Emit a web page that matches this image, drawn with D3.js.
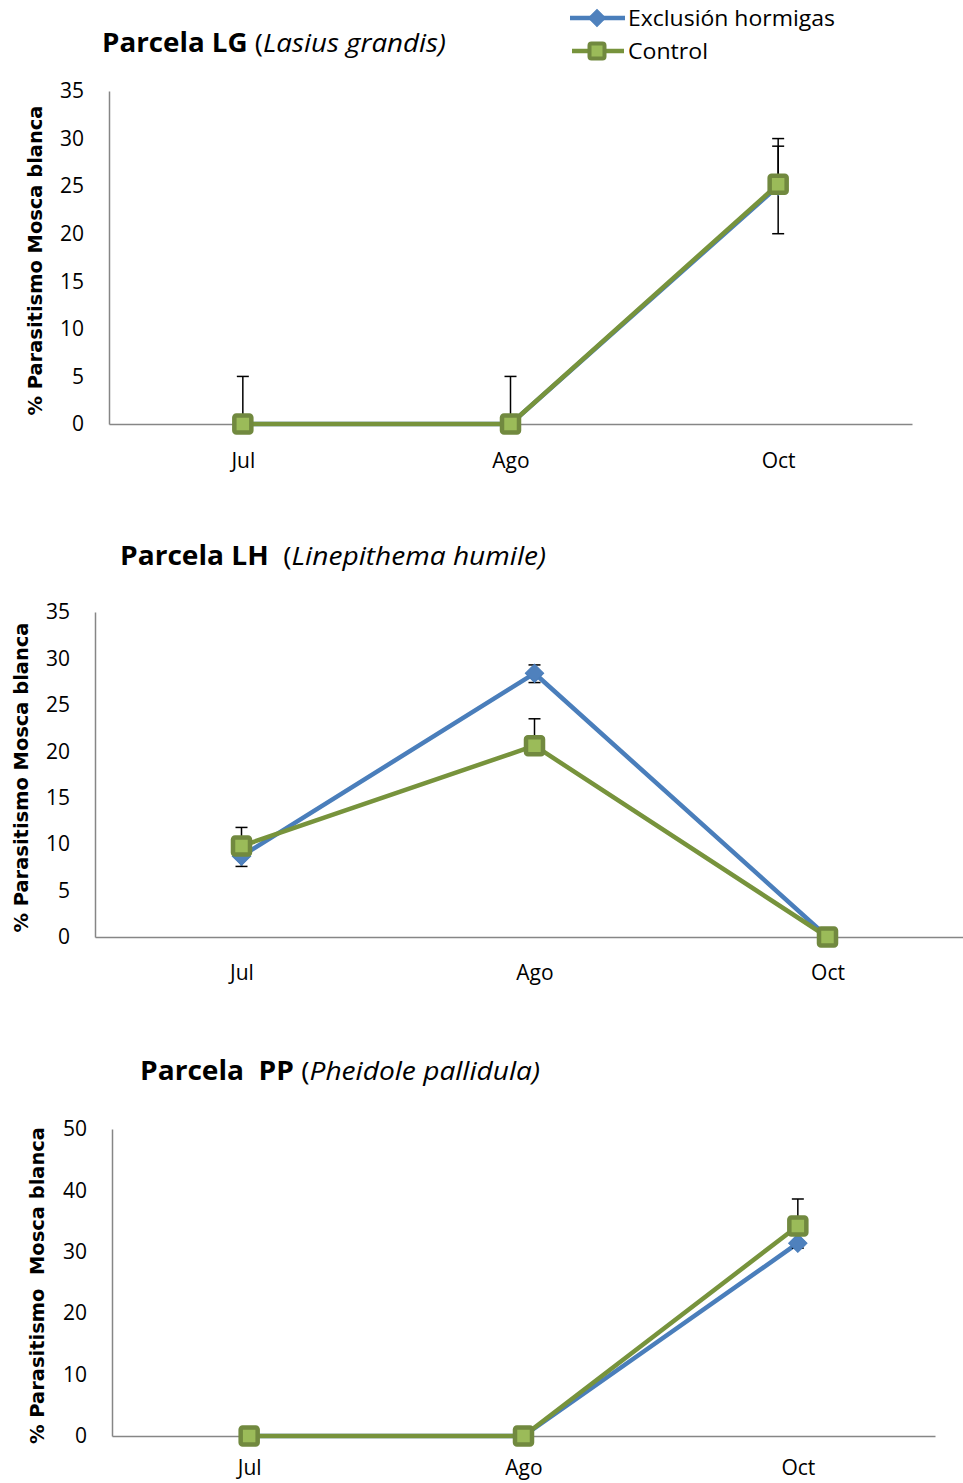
<!DOCTYPE html>
<html>
<head>
<meta charset="utf-8">
<script src="https://cdn.jsdelivr.net/npm/d3@7"></script>
<style>
  body { margin: 0; background: #fff; }
  svg { display: block; font-family: "Open Sans", sans-serif; }
</style>
</head>
<body>
<div id="chart"></div>
<script>
// data
const months = ["Jul", "Ago", "Oct"];
const seriesNames = ["Exclusión hormigas", "Control"];

const lgExcl = [0, 0, 25];
const lgExclPlus = [5, 5, 5];
const lgExclMinus = [0, 0, 5];
const lgCtrl = [0, 0, 25.2];
const lgCtrlPlus = [0, 0, 4];
const lgCtrlMinus = [0, 0, 0];
const lgTicks = [0, 5, 10, 15, 20, 25, 30, 35];

const lhExcl = [8.7, 28.4, 0];
const lhExclPlus = [0, 0.9, 0];
const lhExclMinus = [1.1, 1.0, 0];
const lhCtrl = [9.8, 20.6, 0];
const lhCtrlPlus = [2.0, 2.9, 0];
const lhCtrlMinus = [0, 0, 0];
const lhTicks = [0, 5, 10, 15, 20, 25, 30, 35];

const ppExcl = [0, 0, 31.4];
const ppExclPlus = [0, 0, 0];
const ppExclMinus = [0, 0, 0.8];
const ppCtrl = [0, 0, 34.2];
const ppCtrlPlus = [0, 0, 4.4];
const ppCtrlMinus = [0, 0, 0];
const ppTicks = [0, 10, 20, 30, 40, 50];

const blue = "#4a7ebb", blueFill = "#4f81bd";
const green = "#71893f", greenFill = "#9bbb59", greenLine = "#77933c";

const W = 963, H = 1483;
const svg = d3.select("#chart").append("svg")
    .attr("width", W).attr("height", H);

const panels = [
  { title: ["Parcela LG", " (", "Lasius grandis)"], titleX: 102, titleY: 52, titleLen: 344,
    x0: 109, x1: 912, yTop: 91, yZero: 424, max: 35, ticks: lgTicks, catPad: 29,
    labelX: 42, labelLen: 310, label: "% Parasitismo Mosca blanca",
    excl: [lgExcl, lgExclPlus, lgExclMinus], ctrl: [lgCtrl, lgCtrlPlus, lgCtrlMinus] },
  { title: ["Parcela LH", "  (", "Linepithema humile)"], titleX: 120, titleY: 565, titleLen: 426,
    x0: 95, x1: 974, yTop: 612, yZero: 937, max: 35, ticks: lhTicks, catPad: 28,
    labelX: 28, labelLen: 310, label: "% Parasitismo Mosca blanca",
    excl: [lhExcl, lhExclPlus, lhExclMinus], ctrl: [lhCtrl, lhCtrlPlus, lhCtrlMinus] },
  { title: ["Parcela  PP", " (", "Pheidole pallidula)"], titleX: 140, titleY: 1080, titleLen: 400,
    x0: 112, x1: 935, yTop: 1129, yZero: 1436, max: 50, ticks: ppTicks, catPad: 24,
    labelX: 44, labelLen: 317, label: "% Parasitismo  Mosca blanca",
    excl: [ppExcl, ppExclPlus, ppExclMinus], ctrl: [ppCtrl, ppCtrlPlus, ppCtrlMinus] }
];

panels.forEach(p => {
  const x = d3.scalePoint().domain(months).range([p.x0, p.x1]).padding(0.5);
  const y = d3.scaleLinear().domain([0, p.max]).range([p.yZero, p.yTop]);

  // title
  const t = svg.append("text")
      .attr("x", p.titleX).attr("y", p.titleY)
      .attr("font-size", 26)
      .style("white-space", "pre")
      .attr("textLength", p.titleLen).attr("lengthAdjust", "spacingAndGlyphs");
  t.append("tspan").attr("font-weight", "bold").text(p.title[0]);
  t.append("tspan").text(p.title[1]);
  t.append("tspan").attr("font-style", "italic").text(p.title[2]);

  // y axis label
  const cy = (p.yTop + p.yZero) / 2 + 3;
  svg.append("text")
      .attr("transform", `translate(${p.labelX},${cy}) rotate(-90)`)
      .attr("text-anchor", "middle")
      .attr("font-family", "DejaVu Sans, sans-serif")
      .attr("font-weight", "bold")
      .attr("font-size", 20)
      .attr("textLength", p.labelLen).attr("lengthAdjust", "spacingAndGlyphs")
      .style("white-space", "pre")
      .text(p.label);

  // axes
  const yAxis = svg.append("g")
      .attr("transform", `translate(${p.x0},0)`)
      .call(d3.axisLeft(y).tickValues(p.ticks).tickSize(0).tickPadding(25));
  const xAxis = svg.append("g")
      .attr("transform", `translate(0,${p.yZero})`)
      .call(d3.axisBottom(x).tickSize(0).tickPadding(p.catPad));
  [yAxis, xAxis].forEach(a => {
    a.select(".domain").attr("stroke", "#868686").attr("stroke-width", 1.5);
    a.selectAll("text").attr("font-size", 21).attr("fill", "#000")
        .attr("font-family", "Open Sans, sans-serif");
  });

  const line = d3.line().x((d, i) => x(months[i])).y(d => y(d));

  const drawErr = (vals, plus, minus) => {
    const g = svg.append("g").attr("stroke", "#000").attr("stroke-width", 1.5);
    vals.forEach((v, i) => {
      const cx = x(months[i]);
      if (plus[i] > 0) {
        g.append("line").attr("x1", cx).attr("x2", cx).attr("y1", y(v)).attr("y2", y(v + plus[i]));
        g.append("line").attr("x1", cx - 6).attr("x2", cx + 6).attr("y1", y(v + plus[i])).attr("y2", y(v + plus[i]));
      }
      if (minus[i] > 0) {
        g.append("line").attr("x1", cx).attr("x2", cx).attr("y1", y(v)).attr("y2", y(v - minus[i]));
        g.append("line").attr("x1", cx - 6).attr("x2", cx + 6).attr("y1", y(v - minus[i])).attr("y2", y(v - minus[i]));
      }
    });
  };

  // exclusion series (blue, diamonds)
  svg.append("path").datum(p.excl[0])
      .attr("d", line).attr("fill", "none")
      .attr("stroke", blue).attr("stroke-width", 4.5).attr("stroke-linejoin", "round");
  drawErr(p.excl[0], p.excl[1], p.excl[2]);
  svg.append("g").selectAll("rect").data(p.excl[0]).enter().append("rect")
      .attr("x", -6.5).attr("y", -6.5).attr("width", 13).attr("height", 13)
      .attr("transform", (d, i) => `translate(${x(months[i])},${y(d)}) rotate(45)`)
      .attr("fill", blueFill).attr("stroke", blue).attr("stroke-width", 1);

  // control series (green, squares)
  svg.append("path").datum(p.ctrl[0])
      .attr("d", line).attr("fill", "none")
      .attr("stroke", greenLine).attr("stroke-width", 4.5).attr("stroke-linejoin", "round");
  drawErr(p.ctrl[0], p.ctrl[1], p.ctrl[2]);
  svg.append("g").selectAll("rect").data(p.ctrl[0]).enter().append("rect")
      .attr("width", 17).attr("height", 17)
      .attr("transform", (d, i) => `translate(${x(months[i]) - 8.5},${y(d) - 8.5})`)
      .attr("rx", 2)
      .attr("fill", greenFill).attr("stroke", green).attr("stroke-width", 4.5);
});

// legend
const legend = svg.append("g");
const legY = [18, 51];
legend.append("line").attr("x1", 570).attr("x2", 625).attr("y1", legY[0]).attr("y2", legY[0])
    .attr("stroke", blue).attr("stroke-width", 4.5);
legend.append("rect").attr("x", -6).attr("y", -6).attr("width", 12).attr("height", 12)
    .attr("transform", `translate(597,${legY[0]}) rotate(45)`)
    .attr("fill", blueFill).attr("stroke", blue).attr("stroke-width", 1);
legend.append("line").attr("x1", 572).attr("x2", 624).attr("y1", legY[1]).attr("y2", legY[1])
    .attr("stroke", greenLine).attr("stroke-width", 4.5);
legend.append("rect").attr("x", 589.5).attr("y", legY[1] - 7.5).attr("width", 15).attr("height", 15)
    .attr("rx", 2)
    .attr("fill", greenFill).attr("stroke", green).attr("stroke-width", 4);
legend.selectAll("text.leg").data(seriesNames).enter().append("text")
    .attr("class", "leg")
    .attr("x", 628).attr("y", (d, i) => legY[i] + 8)
    .attr("font-size", 22)
    .attr("textLength", (d, i) => i === 0 ? 207 : 80)
    .attr("lengthAdjust", "spacingAndGlyphs")
    .text(d => d);
</script>
</body>
</html>
